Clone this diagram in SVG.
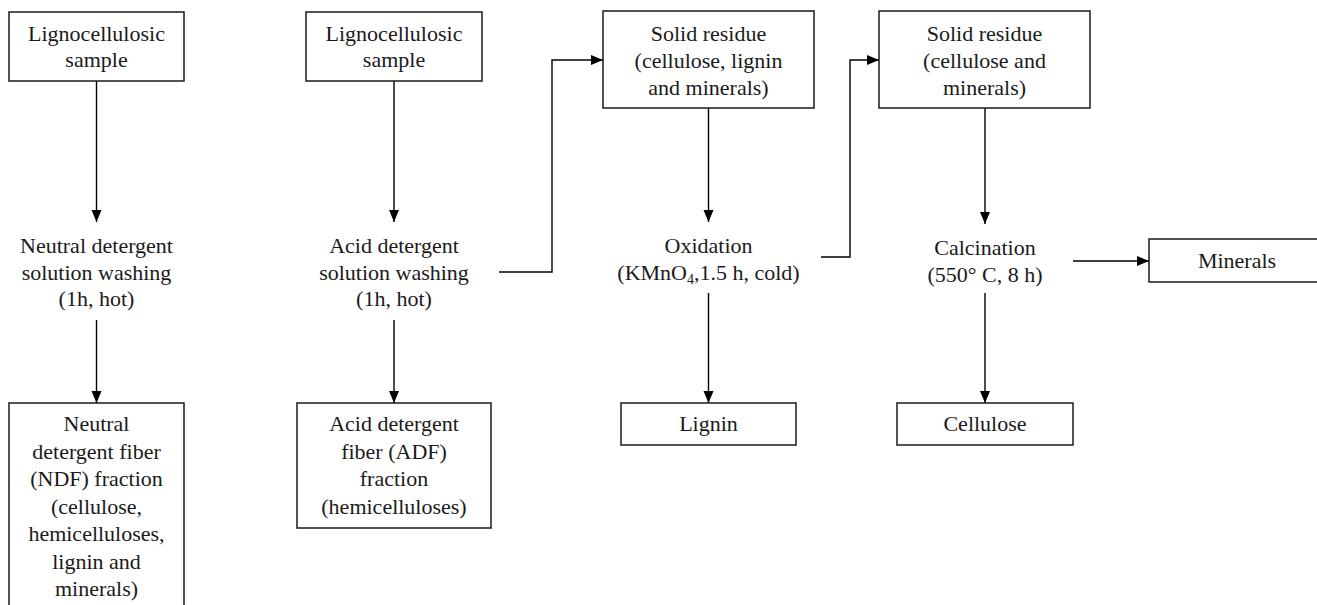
<svg xmlns="http://www.w3.org/2000/svg" width="1317" height="605" viewBox="0 0 1317 605">
<defs>
<style>
.box{fill:#fff;stroke:#1a1a1a;stroke-width:1.5}
.t{font-family:"Liberation Serif","Times New Roman",serif;font-size:22px;fill:#1a1a1a;text-anchor:middle}
.c{fill:none;stroke:#000;stroke-width:1.4}
</style>
<marker id="ah" markerUnits="userSpaceOnUse" markerWidth="13" markerHeight="11" refX="12" refY="5" orient="auto">
<path d="M0,0 L12,5 L0,10 z" fill="#000"/>
</marker>
</defs>
<rect width="1317" height="605" fill="#fff"/>
<g id="connectors">
<line class="c" x1="96.5" y1="81" x2="96.5" y2="222" marker-end="url(#ah)"/>
<line class="c" x1="96.5" y1="320" x2="96.5" y2="403" marker-end="url(#ah)"/>
<line class="c" x1="394" y1="81" x2="394" y2="222" marker-end="url(#ah)"/>
<line class="c" x1="394" y1="320" x2="394" y2="403" marker-end="url(#ah)"/>
<polyline class="c" points="499,272 552,272 552,60 603,60" marker-end="url(#ah)"/>
<line class="c" x1="708.5" y1="108" x2="708.5" y2="222" marker-end="url(#ah)"/>
<line class="c" x1="708.5" y1="293" x2="708.5" y2="403" marker-end="url(#ah)"/>
<polyline class="c" points="821,257 850,257 850,60 879,60" marker-end="url(#ah)"/>
<line class="c" x1="985" y1="108" x2="985" y2="224" marker-end="url(#ah)"/>
<line class="c" x1="985" y1="293" x2="985" y2="403" marker-end="url(#ah)"/>
<line class="c" x1="1073" y1="261" x2="1149" y2="261" marker-end="url(#ah)"/>
</g>
<g id="sample1">
<rect class="box" x="9" y="12" width="175" height="69"/>
<text class="t" x="96.5" y="41">Lignocellulosic</text>
<text class="t" x="96.5" y="67">sample</text>
</g>
<g id="neutral-wash">
<text class="t" x="96.5" y="253">Neutral detergent</text>
<text class="t" x="96.5" y="280">solution washing</text>
<text class="t" x="96.5" y="306">(1h, hot)</text>
</g>
<g id="ndf">
<rect class="box" x="9" y="403" width="175" height="230"/>
<text class="t" x="96.5" y="431">Neutral</text>
<text class="t" x="96.5" y="458.5">detergent fiber</text>
<text class="t" x="96.5" y="486">(NDF) fraction</text>
<text class="t" x="96.5" y="513.5">(cellulose,</text>
<text class="t" x="96.5" y="541">hemicelluloses,</text>
<text class="t" x="96.5" y="568.5">lignin and</text>
<text class="t" x="96.5" y="596">minerals)</text>
</g>
<g id="sample2">
<rect class="box" x="306" y="12" width="176" height="69"/>
<text class="t" x="394" y="41">Lignocellulosic</text>
<text class="t" x="394" y="67">sample</text>
</g>
<g id="acid-wash">
<text class="t" x="394" y="253">Acid detergent</text>
<text class="t" x="394" y="280">solution washing</text>
<text class="t" x="394" y="306">(1h, hot)</text>
</g>
<g id="adf">
<rect class="box" x="297" y="403" width="194" height="125"/>
<text class="t" x="394" y="431">Acid detergent</text>
<text class="t" x="394" y="458.5">fiber (ADF)</text>
<text class="t" x="394" y="486">fraction</text>
<text class="t" x="394" y="513.5">(hemicelluloses)</text>
</g>
<g id="solid1">
<rect class="box" x="603" y="11" width="211" height="97"/>
<text class="t" x="708.5" y="41">Solid residue</text>
<text class="t" x="708.5" y="68">(cellulose, lignin</text>
<text class="t" x="708.5" y="95">and minerals)</text>
</g>
<g id="oxidation">
<text class="t" x="708.5" y="253">Oxidation</text>
<text class="t" x="708.5" y="280">(KMnO<tspan font-size="14" dy="4">4</tspan><tspan dy="-4">,1.5 h, cold)</tspan></text>
</g>
<g id="lignin">
<rect class="box" x="621" y="403" width="175" height="42"/>
<text class="t" x="708.5" y="431">Lignin</text>
</g>
<g id="solid2">
<rect class="box" x="879" y="11" width="211" height="97"/>
<text class="t" x="984.5" y="41">Solid residue</text>
<text class="t" x="984.5" y="68">(cellulose and</text>
<text class="t" x="984.5" y="95">minerals)</text>
</g>
<g id="calcination">
<text class="t" x="985" y="255">Calcination</text>
<text class="t" x="985" y="282">(550° C, 8 h)</text>
</g>
<g id="cellulose">
<rect class="box" x="897" y="403" width="176" height="42"/>
<text class="t" x="985" y="431">Cellulose</text>
</g>
<g id="minerals">
<rect class="box" x="1149" y="239" width="180" height="43"/>
<text class="t" x="1237" y="268">Minerals</text>
</g>
</svg>
